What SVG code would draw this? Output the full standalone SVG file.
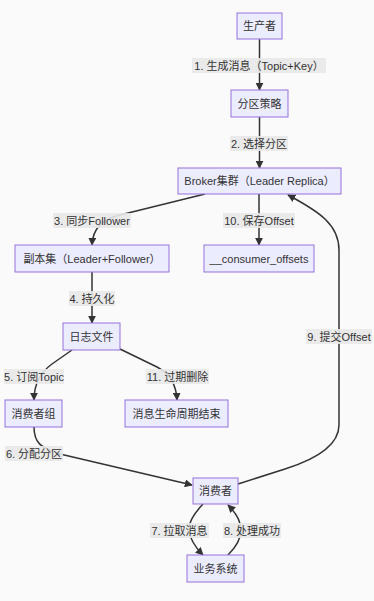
<svg xmlns="http://www.w3.org/2000/svg" width="374" height="601" viewBox="0 0 374 601">
<style>
.node rect{fill:#ECECFF;stroke:#9370DB;stroke-width:1}
text{font-family:"Liberation Sans","Noto Sans CJK SC",sans-serif;font-size:11px;fill:#333;text-anchor:middle;dominant-baseline:central}
.edge{fill:none;stroke:#333;stroke-width:1.5}
.lbl rect{fill:#e8e8e8;opacity:0.9}
</style>
<defs>
<marker id="arr" viewBox="0 0 10 10" refX="9" refY="5" markerWidth="8" markerHeight="8" markerUnits="userSpaceOnUse" orient="auto">
<path d="M0,0 L10,5 L0,10 z" fill="#333"/>
</marker>
</defs>
<rect width="374" height="601" fill="#fafafa"/>
<g id="connectors">
<path class="edge" d="M259.5,39 L259.5,90" marker-end="url(#arr)"/>
<path class="edge" d="M259.5,117 L259.5,168" marker-end="url(#arr)"/>
<path class="edge" d="M205,194 L120,215 Q93,221 92,245" marker-end="url(#arr)"/>
<path class="edge" d="M259,194 L259,245" marker-end="url(#arr)"/>
<path class="edge" d="M92,272 L92,323" marker-end="url(#arr)"/>
<path class="edge" d="M72,350 L52,364 Q34,377 34,400" marker-end="url(#arr)"/>
<path class="edge" d="M120,349 L157,367 Q176,377 177,400" marker-end="url(#arr)"/>
<path class="edge" d="M34,427 C34,442 40,448 60,454 L192,485" marker-end="url(#arr)"/>
<path class="edge" d="M203,504 Q188,520 189,530 Q190,542 203,555" marker-end="url(#arr)"/>
<path class="edge" d="M228,555 Q241,542 241,530 Q241,518 228,505" marker-end="url(#arr)"/>
<path class="edge" d="M238,484 L285,469 Q339,452 339,425 L339,250 C339,225 320,212 288,195" marker-end="url(#arr)"/>
<g class="lbl">
<rect x="192" y="58" width="134" height="15"/><text x="259" y="65.5">1. 生成消息（Topic+Key）</text>
<rect x="230" y="136" width="58" height="15"/><text x="259" y="143.5">2. 选择分区</text>
<rect x="53" y="213" width="78" height="15"/><text x="92" y="220.5">3. 同步Follower</text>
<rect x="223" y="213" width="72" height="15"/><text x="259" y="220.5">10. 保存Offset</text>
<rect x="69" y="291" width="46" height="15"/><text x="92" y="298.5">4. 持久化</text>
<rect x="306" y="329" width="66" height="15"/><text x="339" y="336.5">9. 提交Offset</text>
<rect x="4" y="369" width="60" height="15"/><text x="34" y="376.5">5. 订阅Topic</text>
<rect x="146" y="369" width="63" height="15"/><text x="177.5" y="376.5">11. 过期删除</text>
<rect x="5" y="446" width="58" height="15"/><text x="34" y="453.5">6. 分配分区</text>
<rect x="150" y="523" width="59" height="15"/><text x="179.5" y="530.5">7. 拉取消息</text>
<rect x="223" y="523" width="58" height="15"/><text x="252" y="530.5">8. 处理成功</text>
</g>
</g>
<g id="producer" class="node"><rect x="237" y="13" width="45" height="26"/><text x="259.5" y="26">生产者</text></g>
<g id="partitioner" class="node"><rect x="231" y="90" width="57" height="27"/><text x="259.5" y="103.5">分区策略</text></g>
<g id="broker" class="node"><rect x="178" y="168" width="163" height="26"/><text x="259.5" y="181">Broker集群（Leader Replica）</text></g>
<g id="replicas" class="node"><rect x="15" y="245" width="154" height="27"/><text x="92" y="258.5">副本集（Leader+Follower）</text></g>
<g id="offsets" class="node"><rect x="204" y="245" width="110" height="27"/><text x="259" y="258.5">__consumer_offsets</text></g>
<g id="logfile" class="node"><rect x="63" y="323" width="57" height="27"/><text x="91.5" y="336.5">日志文件</text></g>
<g id="group" class="node"><rect x="5" y="400" width="57" height="27"/><text x="33.5" y="413.5">消费者组</text></g>
<g id="lifecycle" class="node"><rect x="125" y="400" width="103" height="27"/><text x="176.5" y="413.5">消息生命周期结束</text></g>
<g id="consumer" class="node"><rect x="193" y="478" width="45" height="26"/><text x="215.5" y="491">消费者</text></g>
<g id="business" class="node"><rect x="187" y="555" width="57" height="27"/><text x="215.5" y="568.5">业务系统</text></g>
</svg>
